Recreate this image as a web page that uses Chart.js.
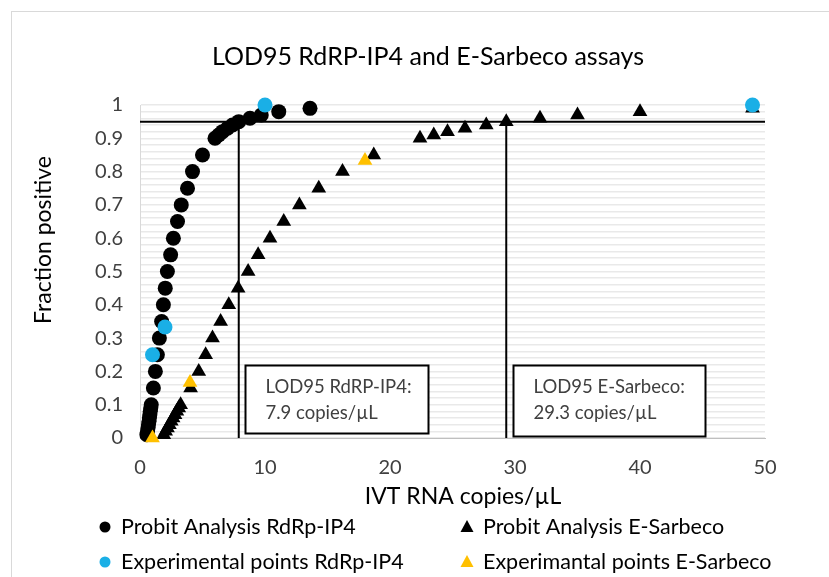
<!DOCTYPE html>
<html>
<head>
<meta charset="utf-8">
<script src="https://cdn.jsdelivr.net/npm/chart.js@4.4.1/dist/chart.umd.min.js"></script>
<style>
  body { margin: 0; background: #fff; }
  #wrap { width: 829px; height: 577px; position: relative; }
</style>
</head>
<body>
<div id="wrap"><canvas id="lodChart"></canvas></div>
<script>
// probit levels (fraction positive) shared by both probit curves
const probitLevels = [0.01, 0.02, 0.03, 0.04, 0.05, 0.06, 0.07, 0.08, 0.09, 0.10,
    0.15, 0.20, 0.25, 0.30, 0.35, 0.40, 0.45, 0.50, 0.55, 0.60, 0.65, 0.70, 0.75, 0.80, 0.85, 0.90,
    0.91, 0.92, 0.93, 0.94, 0.95, 0.96, 0.97, 0.98, 0.99];
// copies/uL for each level
const rdrpProbitX = [0.55, 0.60, 0.64, 0.68, 0.72, 0.75, 0.79, 0.82, 0.86, 0.90,
    1.07, 1.23, 1.39, 1.55, 1.73, 1.87, 2.02, 2.19, 2.45, 2.67, 3.0, 3.3, 3.8, 4.2, 5.0, 6.0,
    6.3, 6.6, 7.0, 7.4, 7.9, 8.8, 9.7, 11.1, 13.6];
const sarbecoProbitX = [1.9, 2.05, 2.2, 2.35, 2.5, 2.65, 2.8, 2.95, 3.1, 3.25,
    4.05, 4.7, 5.25, 5.8, 6.45, 7.1, 7.85, 8.65, 9.45, 10.4, 11.5, 12.75, 14.3, 16.2, 18.7, 22.4,
    23.5, 24.6, 26.0, 27.7, 29.3, 32.0, 35.0, 40.0, 49.0];

// experimental points
const rdrpExpX = [1, 2, 10, 49];
const rdrpExpY = [0.25, 0.3333, 1, 1];
const sarbecoExpX = [1, 4, 18];
const sarbecoExpY = [0, 0.1667, 0.8333];

// LOD95 values
const lodLevel = 0.95;
const rdrpLod = 7.9;
const sarbecoLod = 29.3;

const xTicks = [0, 10, 20, 30, 40, 50];
const yTickLabels = ['0', '0.1', '0.2', '0.3', '0.4', '0.5', '0.6', '0.7', '0.8', '0.9', '1'];

const FONT = 'Lato, Carlito, Calibri, sans-serif';

function toPoints(xs, ys) {
    return xs.map((x, i) => ({ x: x, y: ys[i] }));
}

const datasets = [
    {
        label: 'Experimental points RdRp-IP4',
        data: toPoints(rdrpExpX, rdrpExpY),
        pointStyle: 'circle', pointRadius: 7.5,
        backgroundColor: '#1aafe6', borderColor: '#1aafe6', borderWidth: 0,
        order: 0
    },
    {
        label: 'Experimantal points E-Sarbeco',
        data: toPoints(sarbecoExpX, sarbecoExpY),
        pointStyle: 'triangle', pointRadius: 8.5,
        backgroundColor: '#ffc000', borderColor: '#ffc000', borderWidth: 0,
        order: 0
    },
    {
        label: 'Probit Analysis RdRp-IP4',
        data: toPoints(rdrpProbitX, probitLevels),
        pointStyle: 'circle', pointRadius: 7.5,
        backgroundColor: '#000', borderColor: '#000', borderWidth: 0,
        order: 1
    },
    {
        label: 'Probit Analysis E-Sarbeco',
        data: toPoints(sarbecoProbitX, probitLevels),
        pointStyle: 'triangle', pointRadius: 8.5,
        backgroundColor: '#000', borderColor: '#000', borderWidth: 0,
        order: 1
    },
    // LOD95 guide lines
    {
        label: 'lod-h',
        data: [{ x: xTicks[0], y: lodLevel }, { x: xTicks[xTicks.length - 1], y: lodLevel }],
        showLine: true, pointRadius: 0, borderColor: '#000', borderWidth: 2, order: 2
    },
    {
        label: 'lod-rdrp',
        data: [{ x: rdrpLod, y: 0 }, { x: rdrpLod, y: lodLevel }],
        showLine: true, pointRadius: 0, borderColor: '#000', borderWidth: 2, order: 2
    },
    {
        label: 'lod-sarbeco',
        data: [{ x: sarbecoLod, y: 0 }, { x: sarbecoLod, y: lodLevel }],
        showLine: true, pointRadius: 0, borderColor: '#000', borderWidth: 2, order: 2
    }
];

// legend order as in the picture (2 x 2)
const legendItems = [
    { ds: 2, col: 0, row: 0 },
    { ds: 3, col: 1, row: 0 },
    { ds: 0, col: 0, row: 1 },
    { ds: 1, col: 1, row: 1 }
];

// text boxes, in data units
const lodBoxes = [
    { x0: 8.4, x1: 23.0, y0: 0.015, y1: 0.22, lines: ['LOD95 RdRP-IP4:', rdrpLod.toFixed(1) + ' copies/µL'] },
    { x0: 29.85, x1: 45.2, y0: 0.006, y1: 0.22, lines: ['LOD95 E-Sarbeco:', sarbecoLod.toFixed(1) + ' copies/µL'] }
];

const decor = {
    id: 'decor',
    beforeDraw(chart) {
        const c = chart.ctx;
        c.save();
        c.fillStyle = '#fff';
        c.fillRect(0, 0, chart.width, chart.height);
        c.strokeStyle = '#d9d9d9';
        c.lineWidth = 1;
        c.strokeRect(11.5, 11.5, chart.width + 20, chart.height + 20);
        c.restore();
    },
    beforeDatasetsDraw(chart) {
        const c = chart.ctx;
        const sx = chart.scales.x, sy = chart.scales.y;
        c.save();
        lodBoxes.forEach(b => {
            const l = Math.round(sx.getPixelForValue(b.x0)) + 0.5;
            const r = Math.round(sx.getPixelForValue(b.x1)) + 0.5;
            const t = Math.round(sy.getPixelForValue(b.y1)) + 0.5;
            const btm = Math.round(sy.getPixelForValue(b.y0)) + 0.5;
            c.fillStyle = '#fff';
            c.fillRect(l, t, r - l, btm - t);
            c.strokeStyle = '#000';
            c.lineWidth = 2;
            c.strokeRect(l, t, r - l, btm - t);
            c.fillStyle = '#404040';
            c.font = '18.5px ' + FONT;
            c.textBaseline = 'middle';
            c.textAlign = 'left';
            b.lines.forEach((txt, i) => c.fillText(txt, l + 20, t + 22 + i * 26));
        });
        c.restore();
    },
    afterDraw(chart) {
        const c = chart.ctx;
        c.save();
        c.textBaseline = 'middle';
        c.textAlign = 'center';
        c.fillStyle = '#000';

        // chart title
        c.font = '25px ' + FONT;
        c.fillText('LOD95 RdRP-IP4 and E-Sarbeco assays', 428, 57);

        // axis titles
        c.font = '23px ' + FONT;
        c.fillText('IVT RNA copies/µL', 463, 497);
        c.save();
        c.translate(44, 240);
        c.rotate(-Math.PI / 2);
        c.fillText('Fraction positive', 0, 0);
        c.restore();

        // legend
        c.font = '21.5px ' + FONT;
        c.textAlign = 'left';
        const colX = [105, 467];
        const rowY = [527, 562];
        legendItems.forEach(it => {
            const ds = chart.data.datasets[it.ds];
            const mx = colX[it.col], my = rowY[it.row];
            c.fillStyle = ds.backgroundColor;
            c.beginPath();
            if (ds.pointStyle === 'triangle') {
                c.moveTo(mx, my - 7);
                c.lineTo(mx + 6.5, my + 5);
                c.lineTo(mx - 6.5, my + 5);
                c.closePath();
            } else {
                c.arc(mx, my, 5.5, 0, Math.PI * 2);
            }
            c.fill();
            c.fillStyle = '#000';
            c.fillText(ds.label, mx + 16, my);
        });
        c.restore();
    }
};

const chart = new Chart(document.getElementById('lodChart'), {
    type: 'scatter',
    data: { datasets: datasets },
    options: {
        responsive: true,
        maintainAspectRatio: false,
        animation: false,
        clip: false,
        layout: { padding: { left: 0, right: 64, top: 105, bottom: 0 } },
        plugins: {
            legend: { display: false },
            title: { display: false },
            tooltip: { enabled: false }
        },
        scales: {
            x: {
                type: 'linear',
                min: xTicks[0],
                max: xTicks[xTicks.length - 1],
                afterFit: s => { s.height = 139; },
                afterBuildTicks: s => { s.ticks = xTicks.map(v => ({ value: v })); },
                grid: { display: false },
                border: { color: '#bfbfbf', width: 1 },
                ticks: {
                    color: '#404040',
                    font: { family: FONT, size: 20 },
                    padding: 10,
                    maxRotation: 0
                }
            },
            y: {
                type: 'linear',
                min: 0,
                max: 1,
                afterFit: s => { s.width = 140; },
                grid: { color: '#e9e9e9', lineWidth: 1.5, drawTicks: false },
                border: { color: '#d9d9d9', width: 1 },
                ticks: {
                    stepSize: 0.02,
                    autoSkip: false,
                    color: '#404040',
                    font: { family: FONT, size: 20 },
                    padding: 17,
                    callback: function (value) {
                        const k = Math.round(value * 100);
                        return k % 10 === 0 ? yTickLabels[k / 10] : '';
                    }
                }
            }
        }
    },
    plugins: [decor]
});
</script>
</body>
</html>
